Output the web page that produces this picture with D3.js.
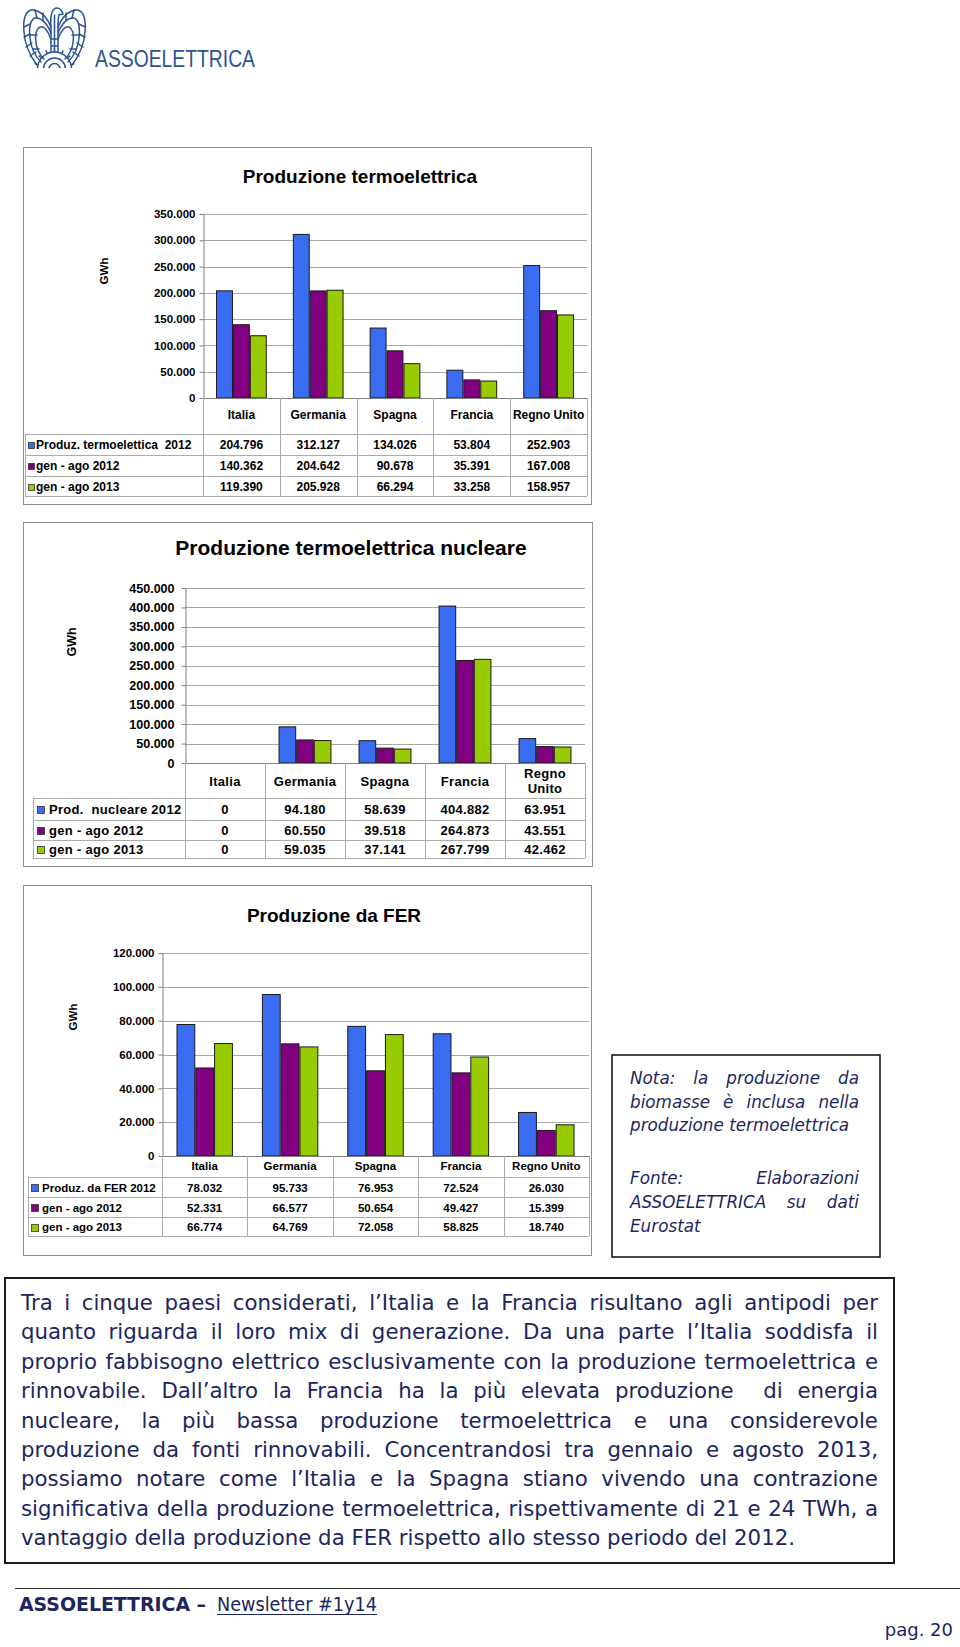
<!DOCTYPE html>
<html><head><meta charset="utf-8">
<script src="https://cdn.jsdelivr.net/npm/d3@7"></script>
<style>body{margin:0;background:#fff}svg{display:block}</style>
</head><body>
<svg id="page" width="960" height="1647"></svg>
<script>
// ---------------- DATA ----------------
const categories = ["Italia", "Germania", "Spagna", "Francia", "Regno Unito"];

const termoLabels = ["Produz. termoelettica  2012", "gen - ago 2012", "gen - ago 2013"];
const termo2012 = [204796, 312127, 134026, 53804, 252903];
const termoGenAgo2012 = [140362, 204642, 90678, 35391, 167008];
const termoGenAgo2013 = [119390, 205928, 66294, 33258, 158957];
const termoTicks = [0, 50000, 100000, 150000, 200000, 250000, 300000, 350000];

const nucLabels = ["Prod.  nucleare 2012", "gen - ago 2012", "gen - ago 2013"];
const nuc2012 = [0, 94180, 58639, 404882, 63951];
const nucGenAgo2012 = [0, 60550, 39518, 264873, 43551];
const nucGenAgo2013 = [0, 59035, 37141, 267799, 42462];
const nucTicks = [0, 50000, 100000, 150000, 200000, 250000, 300000, 350000, 400000, 450000];

const ferLabels = ["Produz. da FER 2012", "gen - ago 2012", "gen - ago 2013"];
const fer2012 = [78032, 95733, 76953, 72524, 26030];
const ferGenAgo2012 = [52331, 66577, 50654, 49427, 15399];
const ferGenAgo2013 = [66774, 64769, 72058, 58825, 18740];
const ferTicks = [0, 20000, 40000, 60000, 80000, 100000, 120000];

const noteLines = [
  {text: "Nota: la produzione da", justify: true},
  {text: "biomasse è inclusa nella", justify: true},
  {text: "produzione termoelettrica", justify: false},
  {text: "Fonte: Elaborazioni", justify: true},
  {text: "ASSOELETTRICA su dati", justify: true},
  {text: "Eurostat", justify: false}
];
const paragraphLines = [
  {text: "Tra i cinque paesi considerati, l’Italia e la Francia risultano agli antipodi per", justify: true},
  {text: "quanto riguarda il loro mix di generazione. Da una parte l’Italia soddisfa il", justify: true},
  {text: "proprio fabbisogno elettrico esclusivamente con la produzione termoelettrica e", justify: true},
  {text: "rinnovabile. Dall’altro la Francia ha la più elevata produzione  di energia", justify: true},
  {text: "nucleare, la più bassa produzione termoelettrica e una considerevole", justify: true},
  {text: "produzione da fonti rinnovabili. Concentrandosi tra gennaio e agosto 2013,", justify: true},
  {text: "possiamo notare come l’Italia e la Spagna stiano vivendo una contrazione", justify: true},
  {text: "significativa della produzione termoelettrica, rispettivamente di 21 e 24 TWh, a", justify: true},
  {text: "vantaggio della produzione da FER rispetto allo stesso periodo del 2012.", justify: false}
];

// ---------------- STYLE ----------------
const seriesColors = ["#3a6cf2", "#800080", "#99cc00"];
const chartFont = "'Liberation Sans', Arial, sans-serif";
const navy = "#1c2660";
const fmt = d3.formatLocale({decimal: ",", thousands: ".", grouping: [3], currency: ["", "€"]}).format(",");

const svg = d3.select("#page");

// ---------------- LOGO ----------------
(function drawLogo() {
  const blue = "#2a5592";
  const g = svg.append("g").attr("transform", "translate(22,5)")
    .attr("fill", "none").attr("stroke", blue).attr("stroke-width", 1.5).attr("stroke-linecap", "round");
  const wingPaths = [
    "M29 22 C24 10 16 4 9 5 C3 7 1 16 2 27 C3 40 8 51 15 60",
    "M29 28 C25 18 19 12 13 13 C8 15 7 24 8 33 C9 43 13 51 19 57",
    "M29 34 C26 26 22 21 18 22 C14 24 13 31 14 38 C15 45 18 50 22 54",
    "M2 22 L8 19 M2 32 L8 29 M4 42 L10 38 M8 51 L14 47 M13 5 L15 13 M21 8 L21 15 M15 30 L8 30 M17 44 L11 44"
  ];
  [g.append("g"), g.append("g").attr("transform", "translate(65,0) scale(-1,1)")].forEach(w =>
    wingPaths.forEach(d => w.append("path").attr("d", d)));
  g.append("path").attr("d", "M29 22 C28 10 30 3 35 3 C38 3 40 6 41 9 L37 10 C36 13 36 17 36 22");
  g.append("path").attr("d", "M29 22 L29 47 M32.5 10 L32.5 47 M36 22 L36 47 M29 34 L36 34 M29 41 L36 41");
  g.append("path").attr("d", "M15.5 64 A17 17 0 0 1 49.5 64 M21.5 64 A11 11 0 0 1 43.5 64 M27 64 A5.5 5.5 0 0 1 38 64");
  const teeth = d3.range(-75, 76, 25).map(a => {
    const r = a * Math.PI / 180;
    return `M${32.5 + 17 * Math.sin(r)} ${64 - 17 * Math.cos(r)} L${32.5 + 20 * Math.sin(r)} ${64 - 20 * Math.cos(r)}`;
  }).join(" ");
  g.append("path").attr("d", teeth);
  svg.append("rect").attr("x", 0).attr("y", 68).attr("width", 100).attr("height", 12).attr("fill", "#fff");
  svg.append("text").attr("x", 95).attr("y", 67).attr("font-family", chartFont)
    .attr("font-size", 24).attr("fill", blue).attr("textLength", 160).attr("lengthAdjust", "spacingAndGlyphs")
    .text("ASSOELETTRICA");
})();

// ---------------- CHARTS ----------------
function drawChart(cfg) {
  const g = svg.append("g").attr("font-family", chartFont).attr("font-weight", "bold").attr("fill", "#000");
  const [fx0, fy0, fx1, fy1] = cfg.frame;
  g.append("rect").attr("x", fx0 + .5).attr("y", fy0 + .5).attr("width", fx1 - fx0).attr("height", fy1 - fy0)
    .attr("fill", "#fff").attr("stroke", "#8e8e8e");
  g.append("text").attr("x", cfg.titleX).attr("y", cfg.titleY).attr("text-anchor", "middle")
    .attr("font-size", cfg.titleSize).text(cfg.title);
  g.append("text").attr("transform", `translate(${cfg.gwh[0]},${cfg.gwh[1]}) rotate(-90)`)
    .attr("text-anchor", "middle").attr("dy", "0.35em").attr("font-size", cfg.tickSize).text("GWh");

  const x = d3.scaleBand().domain(categories).range([cfg.left, cfg.right]);
  const xs = d3.scaleBand().domain([0, 1, 2]).range([0, x.bandwidth()]).paddingOuter(0.77).paddingInner(0);
  const y = d3.scaleLinear().domain([0, cfg.yMax]).range([cfg.bottom, cfg.top]);

  g.append("g").selectAll("line").data(cfg.ticks.filter(d => d > 0)).join("line")
    .attr("x1", cfg.left).attr("x2", cfg.right)
    .attr("y1", d => Math.round(y(d)) + .5).attr("y2", d => Math.round(y(d)) + .5)
    .attr("stroke", "#a8a8a8");

  const ax = g.append("g").attr("transform", `translate(${cfg.left + .5},0)`)
    .call(d3.axisLeft(y).tickValues(cfg.ticks).tickFormat(fmt).tickSize(4).tickSizeOuter(0).tickPadding(cfg.tickPad));
  ax.selectAll("path,line").attr("stroke", "#808080");
  ax.selectAll("text").attr("font-size", cfg.tickSize).attr("font-family", chartFont).attr("font-weight", "bold").attr("fill", "#000");

  cfg.series.forEach((vals, i) => {
    g.append("g").selectAll("rect").data(vals.map((v, j) => ({v, c: categories[j]})).filter(d => d.v > 0)).join("rect")
      .attr("x", d => x(d.c) + xs(i) + .5).attr("y", d => y(d.v) + .5)
      .attr("width", xs.bandwidth() - 1).attr("height", d => cfg.bottom - y(d.v) - .5)
      .attr("fill", seriesColors[i]).attr("stroke", "#1a1a1a").attr("stroke-width", 1);
  });

  g.append("line").attr("x1", cfg.left).attr("x2", cfg.right).attr("y1", cfg.bottom + .5).attr("y2", cfg.bottom + .5).attr("stroke", "#808080");

  const L = cfg.lines;
  const tg = g.append("g").attr("stroke", "#ababab").attr("stroke-width", 1);
  const bounds = categories.map(c => x(c)).concat([cfg.right]);
  bounds.forEach(bx => tg.append("line").attr("x1", Math.round(bx) + .5).attr("x2", Math.round(bx) + .5).attr("y1", cfg.bottom).attr("y2", L[3]));
  tg.append("line").attr("x1", cfg.tableLeft + .5).attr("x2", cfg.tableLeft + .5).attr("y1", L[0]).attr("y2", L[3]);
  L.forEach(ly => tg.append("line").attr("x1", cfg.tableLeft).attr("x2", cfg.right).attr("y1", ly + .5).attr("y2", ly + .5));

  categories.forEach(c => {
    const t = g.append("text").attr("x", x(c) + x.bandwidth() / 2).attr("text-anchor", "middle")
      .attr("font-size", cfg.catSize).attr("letter-spacing", cfg.spacing || 0);
    if (cfg.wrap && c.includes(" ")) {
      const parts = c.split(" ");
      parts.forEach((p, k) => t.append("tspan").attr("x", x(c) + x.bandwidth() / 2)
        .attr("y", cfg.catY + (k - (parts.length - 1) / 2) * cfg.catSize * 1.1).attr("dy", "0.35em").text(p));
    } else {
      t.attr("y", cfg.catY).attr("dy", "0.35em").text(c);
    }
  });

  cfg.rowLabels.forEach((lab, i) => {
    const cy = (L[i] + L[i + 1]) / 2 + .5;
    g.append("rect").attr("x", cfg.swatchX + .5).attr("y", Math.round(cy - cfg.swatch / 2) + .5)
      .attr("width", cfg.swatch).attr("height", cfg.swatch).attr("fill", seriesColors[i]).attr("stroke", "#333").attr("stroke-width", .8);
    g.append("text").attr("x", cfg.labelX).attr("y", cy).attr("dy", "0.35em").attr("font-size", cfg.tableSize)
      .attr("letter-spacing", cfg.spacing || 0).attr("xml:space", "preserve").style("white-space", "pre").text(lab);
    cfg.series[i].forEach((v, j) => {
      g.append("text").attr("x", x(categories[j]) + x.bandwidth() / 2).attr("y", cy).attr("dy", "0.35em")
        .attr("text-anchor", "middle").attr("font-size", cfg.tableSize).attr("letter-spacing", cfg.spacing || 0).text(fmt(v));
    });
  });
}

drawChart({
  frame: [23, 147, 591, 504], title: "Produzione termoelettrica", titleX: 360, titleY: 183, titleSize: 19,
  gwh: [104, 271], left: 203, right: 587, top: 214, bottom: 398, yMax: 350000, ticks: termoTicks,
  tickSize: 11.5, tickPad: 4, catY: 415, catSize: 12, tableLeft: 25, lines: [434, 455, 476, 496],
  tableSize: 12, swatch: 6, swatchX: 28, labelX: 36, rowLabels: termoLabels,
  series: [termo2012, termoGenAgo2012, termoGenAgo2013]
});
drawChart({
  frame: [23, 522, 592, 866], title: "Produzione termoelettrica nucleare", titleX: 351, titleY: 555, titleSize: 21,
  gwh: [72, 642], left: 185, right: 585, top: 588, bottom: 763, yMax: 450000, ticks: nucTicks,
  tickSize: 12.5, tickPad: 7, catY: 781, catSize: 13, wrap: true, tableLeft: 33, lines: [798, 820, 840, 858],
  tableSize: 13, swatch: 7, swatchX: 37, labelX: 49, rowLabels: nucLabels, spacing: 0.3,
  series: [nuc2012, nucGenAgo2012, nucGenAgo2013]
});
drawChart({
  frame: [23, 885, 591, 1255], title: "Produzione da FER", titleX: 334, titleY: 922, titleSize: 19,
  gwh: [73, 1017], left: 162, right: 589, top: 953, bottom: 1156, yMax: 120000, ticks: ferTicks,
  tickSize: 11.5, tickPad: 4, catY: 1166, catSize: 11.5, tableLeft: 28, lines: [1177, 1197, 1217, 1236],
  tableSize: 11.5, swatch: 7, swatchX: 31, labelX: 42, rowLabels: ferLabels,
  series: [fer2012, ferGenAgo2012, ferGenAgo2013]
});

// ---------------- TEXT BLOCKS ----------------
function measure(str, attrs) {
  const t = svg.append("text").attr("xml:space", "preserve").style("white-space", "pre");
  Object.entries(attrs).forEach(([k, v]) => t.attr(k, v));
  t.text(str);
  const w = t.node().getComputedTextLength();
  t.remove();
  return w;
}
function textBlock(lines, baselines, opts) {
  const attrs = {"font-family": opts.family, "font-size": opts.size, "font-style": opts.style || "normal"};
  const space = measure("x x", attrs) - measure("xx", attrs);
  let sx = opts.sx || 1;
  if (opts.fitLast) {
    const last = lines[lines.length - 1].text;
    sx = opts.fitLast / measure(last, attrs);
  }
  lines.forEach((ln, i) => {
    const yb = baselines[i];
    const words = ln.text.split(" ");
    const widths = words.map(w => w ? measure(w, attrs) * sx : 0);
    const total = d3.sum(widths);
    let gap = space * sx;
    if (ln.justify && words.length > 1) gap = (opts.x1 - opts.x0 - total) / (words.length - 1);
    let xx = opts.x0;
    words.forEach((w, k) => {
      if (w) {
        const t = svg.append("text").attr("transform", `translate(${xx},${yb}) scale(${sx},1)`).attr("fill", opts.color).text(w);
        Object.entries(attrs).forEach(([a, v]) => t.attr(a, v));
      }
      xx += widths[k] + gap;
    });
  });
}

svg.append("rect").attr("x", 612).attr("y", 1055).attr("width", 268).attr("height", 202)
  .attr("fill", "#fff").attr("stroke", "#1a1a1a").attr("stroke-width", 1.6);
textBlock(noteLines, [1084, 1108, 1131, 1184, 1208, 1232],
  {family: "'DejaVu Sans', Verdana, sans-serif", size: 16.8, style: "italic", color: navy, x0: 630, x1: 859});

svg.append("rect").attr("x", 5).attr("y", 1278).attr("width", 889).attr("height", 285)
  .attr("fill", "#fff").attr("stroke", "#1a1a1a").attr("stroke-width", 2);
textBlock(paragraphLines, d3.range(9).map(i => 1310 + i * 29.4),
  {family: "'DejaVu Sans', Verdana, sans-serif", size: 21, color: navy, x0: 21, x1: 878, fitLast: 774});

// footer
svg.append("line").attr("x1", 15).attr("x2", 960).attr("y1", 1588.5).attr("y2", 1588.5).attr("stroke", "#333").attr("stroke-width", 1);
svg.append("text").attr("x", 19).attr("y", 1611).attr("font-family", "'DejaVu Sans', Verdana, sans-serif")
  .attr("font-weight", "bold").attr("font-size", 20).attr("fill", navy)
  .attr("textLength", 187).attr("lengthAdjust", "spacingAndGlyphs").text("ASSOELETTRICA –");
svg.append("text").attr("x", 217).attr("y", 1611).attr("font-family", "'DejaVu Sans', Verdana, sans-serif")
  .attr("font-size", 20).attr("fill", navy)
  .attr("textLength", 160).attr("lengthAdjust", "spacingAndGlyphs").text("Newsletter #1y14");
svg.append("line").attr("x1", 217).attr("x2", 377).attr("y1", 1614.5).attr("y2", 1614.5).attr("stroke", navy).attr("stroke-width", 1.2);
svg.append("text").attr("x", 953).attr("y", 1636).attr("text-anchor", "end").attr("font-family", "'DejaVu Sans', Verdana, sans-serif")
  .attr("font-size", 18).attr("fill", navy).text("pag. 20");
</script>
</body></html>
